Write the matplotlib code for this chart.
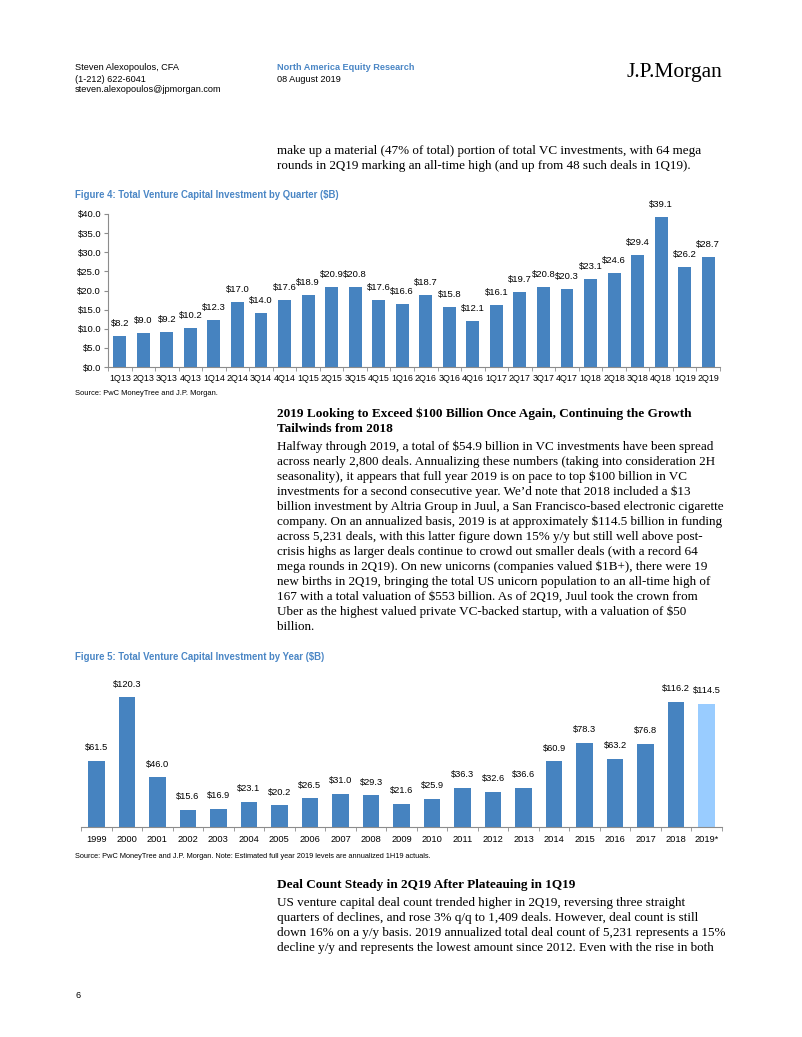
import numpy as np
import matplotlib
matplotlib.use("Agg")
import matplotlib.pyplot as plt

# ---- data ----
quarters = ["1Q13", "2Q13", "3Q13", "4Q13", "1Q14", "2Q14", "3Q14", "4Q14",
            "1Q15", "2Q15", "3Q15", "4Q15", "1Q16", "2Q16", "3Q16", "4Q16",
            "1Q17", "2Q17", "3Q17", "4Q17", "1Q18", "2Q18", "3Q18", "4Q18",
            "1Q19", "2Q19"]
quarter_vals = [8.2, 9.0, 9.2, 10.2, 12.3, 17.0, 14.0, 17.6,
                18.9, 20.9, 20.8, 17.6, 16.6, 18.7, 15.8, 12.1,
                16.1, 19.7, 20.8, 20.3, 23.1, 24.6, 29.4, 39.1,
                26.2, 28.7]

years = ["1999", "2000", "2001", "2002", "2003", "2004", "2005", "2006",
         "2007", "2008", "2009", "2010", "2011", "2012", "2013", "2014",
         "2015", "2016", "2017", "2018", "2019*"]
year_vals = [61.5, 120.3, 46.0, 15.6, 16.9, 23.1, 20.2, 26.5,
             31.0, 29.3, 21.6, 25.9, 36.3, 32.6, 36.6, 60.9,
             78.3, 63.2, 76.8, 116.2, 114.5]

W, H = 802, 1037
BLUE = "#4683c0"
LIGHT = "#99ccff"
TITLE_BLUE = "#4a86c5"
GREY = "#8c8c8c"
SANS = "Liberation Sans"
SERIF = "Liberation Serif"

fig = plt.figure(figsize=(W / 100, H / 100), dpi=100)
fig.patch.set_facecolor("white")


def rect(x0, y0, x1, y1):
    # pixel box (top-left origin) -> figure fraction
    return [x0 / W, 1 - y1 / H, (x1 - x0) / W, (y1 - y0) / H]


def txt(x, y, s, **kw):
    kw.setdefault("va", "center")
    kw.setdefault("ha", "left")
    fig.text(x / W, 1 - y / H, s, **kw)


# ---- header ----
txt(75, 68, "Steven Alexopoulos, CFA", family=SANS, size=6.6)
txt(75, 79, "(1-212) 622-6041", family=SANS, size=6.6)
txt(75, 89, "steven.alexopoulos@jpmorgan.com", family=SANS, size=6.6)
txt(277, 68, "North America Equity Research", family=SANS, size=6.6,
    color=TITLE_BLUE, weight="bold")
txt(277, 79, "08 August 2019", family=SANS, size=6.6)
txt(722, 73, "J.P.Morgan", family=SERIF, size=15.5, ha="right")

body = dict(family=SERIF, size=9.45)
head = dict(family=SERIF, size=9.5, weight="bold")

txt(277, 151, "make up a material (47% of total) portion of total VC investments, with 64 mega", **body)
txt(277, 166, "rounds in 2Q19 marking an all-time high (and up from 48 such deals in 1Q19).", **body)

# ---- figure 4 ----
txt(75, 195, "Figure 4: Total Venture Capital Investment by Quarter ($B)", family=SANS,
    size=6.9, weight="bold", color=TITLE_BLUE)

ax1 = fig.add_axes(rect(108, 214, 720, 367))
x1 = np.arange(len(quarters))
bars = ax1.bar(x1, quarter_vals, width=0.55, color=BLUE)
for b, v in zip(bars, quarter_vals):
    ax1.annotate(f"${v:.1f}", (b.get_x() + b.get_width() / 2, v), xytext=(0, 9),
                 textcoords="offset points", ha="center", va="center",
                 family=SANS, size=6.8)
ax1.set_xlim(-0.5, len(quarters) - 0.5)
ax1.set_ylim(0, 40)
ax1.set_yticks(np.arange(0, 41, 5))
ax1.set_yticklabels([f"${t:.1f}" for t in np.arange(0, 41, 5)], family=SANS, size=6.8)
ax1.set_xticks(x1)
ax1.set_xticklabels(quarters, family=SANS, size=6.4)
ax1.set_xticks(np.arange(-0.5, len(quarters), 1), minor=True)
ax1.tick_params(axis="x", which="major", length=0, pad=5)
ax1.tick_params(axis="x", which="minor", length=3, color=GREY, direction="out")
ax1.tick_params(axis="y", length=3, color=GREY, pad=2)
for s in ["top", "right"]:
    ax1.spines[s].set_visible(False)
for s in ["left", "bottom"]:
    ax1.spines[s].set_color(GREY)
    ax1.spines[s].set_linewidth(0.8)

txt(75, 393, "Source: PwC MoneyTree and J.P. Morgan.", family=SANS, size=5.4)

# ---- text block 1 ----
txt(277, 414, "2019 Looking to Exceed $100 Billion Once Again, Continuing the Growth", **head)
txt(277, 429, "Tailwinds from 2018", **head)
para1 = [
    "Halfway through 2019, a total of $54.9 billion in VC investments have been spread",
    "across nearly 2,800 deals. Annualizing these numbers (taking into consideration 2H",
    "seasonality), it appears that full year 2019 is on pace to top $100 billion in VC",
    "investments for a second consecutive year. We\u2019d note that 2018 included a $13",
    "billion investment by Altria Group in Juul, a San Francisco-based electronic cigarette",
    "company. On an annualized basis, 2019 is at approximately $114.5 billion in funding",
    "across 5,231 deals, with this latter figure down 15% y/y but still well above post-",
    "crisis highs as larger deals continue to crowd out smaller deals (with a record 64",
    "mega rounds in 2Q19). On new unicorns (companies valued $1B+), there were 19",
    "new births in 2Q19, bringing the total US unicorn population to an all-time high of",
    "167 with a total valuation of $553 billion. As of 2Q19, Juul took the crown from",
    "Uber as the highest valued private VC-backed startup, with a valuation of $50",
    "billion.",
]
for i, line in enumerate(para1):
    txt(277, 447 + 15 * i, line, **body)

# ---- figure 5 ----
txt(75, 657, "Figure 5: Total Venture Capital Investment by Year ($B)", family=SANS,
    size=6.9, weight="bold", color=TITLE_BLUE)

ax2 = fig.add_axes(rect(81, 676, 722, 827))
x2 = np.arange(len(years))
cols = [BLUE] * (len(years) - 1) + [LIGHT]
bars2 = ax2.bar(x2, year_vals, width=0.54, color=cols)
for b, v in zip(bars2, year_vals):
    ax2.annotate(f"${v:.1f}", (b.get_x() + b.get_width() / 2, v), xytext=(0, 9.5),
                 textcoords="offset points", ha="center", va="center",
                 family=SANS, size=6.7)
ax2.set_xlim(-0.5, len(years) - 0.5)
ax2.set_ylim(0, 140)
ax2.set_yticks([])
ax2.set_xticks(x2)
ax2.set_xticklabels(years, family=SANS, size=6.7)
ax2.set_xticks(np.arange(-0.5, len(years), 1), minor=True)
ax2.tick_params(axis="x", which="major", length=0, pad=6)
ax2.tick_params(axis="x", which="minor", length=3, color=GREY, direction="out")
for s in ["top", "right", "left"]:
    ax2.spines[s].set_visible(False)
ax2.spines["bottom"].set_color(GREY)
ax2.spines["bottom"].set_linewidth(0.8)

txt(75, 856, "Source: PwC MoneyTree and J.P. Morgan. Note: Estimated full year 2019 levels are annualized 1H19 actuals.",
    family=SANS, size=5.3)

# ---- text block 2 ----
txt(277, 885, "Deal Count Steady in 2Q19 After Plateauing in 1Q19", **head)
para2 = [
    "US venture capital deal count trended higher in 2Q19, reversing three straight",
    "quarters of declines, and rose 3% q/q to 1,409 deals. However, deal count is still",
    "down 16% on a y/y basis. 2019 annualized total deal count of 5,231 represents a 15%",
    "decline y/y and represents the lowest amount since 2012. Even with the rise in both",
]
for i, line in enumerate(para2):
    txt(277, 903 + 15 * i, line, **body)

txt(75, 996, "6", family=SANS, size=6.6)

fig.savefig("out.png", dpi=100, facecolor="white")
